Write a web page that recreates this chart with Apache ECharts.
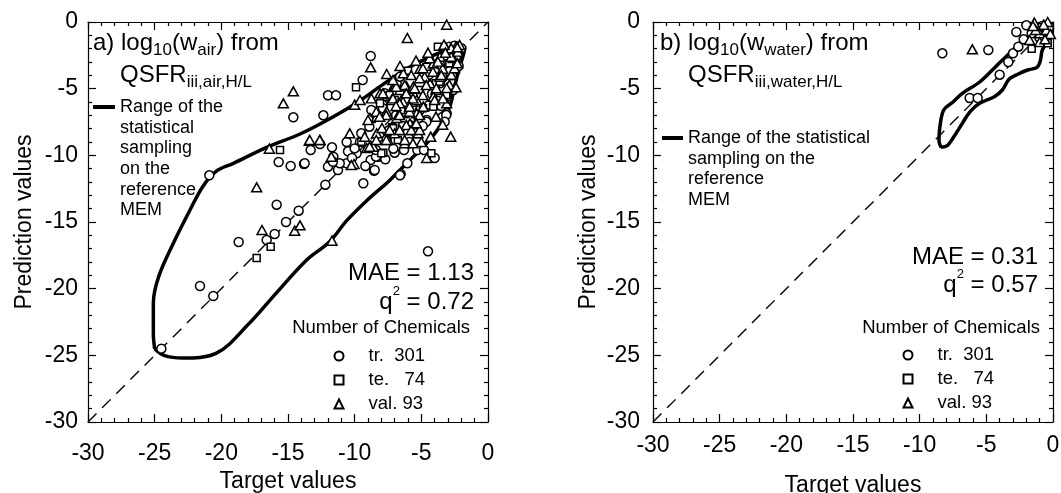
<!DOCTYPE html>
<html>
<head>
<meta charset="utf-8">
<title>QSFR predictions vs targets</title>
<script src="https://fastly.jsdelivr.net/npm/echarts@6/dist/echarts.min.js"></script>
</head>
<body style="margin:0;background:#fff">
<div id="main" style="width:1061px;height:493px;"></div>
<script type="text/javascript">
  // ---- panel a) log10(w_air) : [target, prediction]
  var airTrain = [[-20.9,-11.5],[-21.6,-19.8],[-20.6,-20.55],[-24.5,-24.5],[-18.7,-16.5],[-16.6,-16.35],[-16.0,-15.9],[-15.15,-15.0],[-14.2,-14.15],[-15.85,-13.7],
    [-15.7,-10.5],[-14.8,-10.8],[-13.8,-10.65],[-13.3,-9.6],[-14.6,-7.15],[-12.35,-7.0],[-12.0,-5.5],[-11.4,-5.5],[-9.4,-4.35],[-8.8,-2.55],
    [-12.2,-12.2],[-9.35,-12.1],[-8.55,-11.15],[-8.8,-10.35],[-8.2,-10.1],[-7.0,-9.8],[-6.55,-11.4],[-6.05,-10.6],[-4.5,-17.2],[-4.0,-10.2],
    [-4.6,-7.35],[-12.0,-10.85],[-11.6,-10.1],[-11.7,-9.4],[-11.25,-11.1],[-10.5,-9.7],[-10.6,-10.6],[-9.85,-9.85],[-9.6,-9.0],[-9.5,-8.35],
    [-8.9,-7.85],[-8.75,-6.6],[-10.6,-9.0],[-12.6,-9.15],[-13.75,-10.6],[-11.12,-10.6],[-11.63,-10.48],[-10.0,-9.48],[-8.4,-10.1],[-8.5,-11.1],
    [-7.1,-9.5],[-8.4,-9.6],[-8.1,-8.6],[-7.4,-8.1],[-7.9,-6.2],[-6.9,-7.0],[-6.1,-6.85],[-6.6,-11.5],[-3.4,-7.1],[-3.1,-6.85],
    [-2.9,-1.85],[-2.5,-1.78],[-2.0,-1.97],[-3.1,-2.85],[-6.85,-4.6],[-6.6,-4.1],[-3.13,-6.98],[-3.25,-7.48],[-4.63,-7.48],[-7.88,-6.47],
    [-7.75,-5.35],[-6.63,-6.47],[-5.1,-6.6],[-5.4,-8.35],[-4.9,-7.8],[-5.6,-6.0],[-4.2,-5.4],[-3.6,-3.2],[-2.4,-2.6],[-2.2,-3.3],
    [-5.9,-9.0],[-3.8,-5.9],[-2.7,-4.0],[-9.2,-10.8],[-10.2,-10.2],[-9.0,-9.2],[-7.6,-8.8],[-6.4,-7.8],[-5.2,-7.2],[-4.4,-6.2],
    [-3.6,-4.6],[-2.9,-3.7],[-6.3,-9.6],[-7.7,-10.3],[-5.3,-9.6],[-3.5,-6.3],[-2.6,-5.1],[-4.8,-9.6]];
  var airTest = [[-17.35,-17.7],[-16.3,-16.85],[-15.6,-9.6],[-9.9,-4.9],[-7.85,-9.8],[-4.25,-9.85],[-3.76,-1.85],[-7.6,-5.6],[-7.2,-7.9],[-9.5,-8.98],
    [-6.0,-3.65],[-3.9,-4.6],[-3.05,-5.6],[-5.1,-5.1],[-6.5,-6.6],[-3.4,-4.1],[-8.1,-6.1],[-4.6,-3.35],[-2.9,-3.1],[-2.75,-2.35],
    [-5.6,-5.6],[-7.0,-5.85],[-4.1,-6.35],[-4.88,-6.47],[-7.38,-5.48],[-7.13,-7.97],[-3.63,-4.48],[-3.13,-5.48],[-6.76,-8.85],[-5.88,-7.73],
    [-8.0,-9.85]];
  var airVal = [[-3.1,-0.2],[-6.05,-1.2],[-8.8,-3.4],[-14.6,-5.2],[-15.35,-6.1],[-17.35,-12.4],[-16.95,-15.6],[-14.5,-15.65],[-14.1,-15.25],[-16.4,-9.5],
    [-13.4,-8.9],[-12.6,-8.85],[-11.7,-16.4],[-10.05,-10.65],[-2.8,-8.6],[-3.4,-7.7],[-3.1,-6.1],[-4.6,-10.2],[-5.0,-9.0],[-5.25,-8.35],
    [-6.25,-9.1],[-10.0,-6.2],[-10.37,-8.35],[-9.6,-5.85],[-8.85,-7.2],[-8.35,-8.35],[-9.25,-8.6],[-8.1,-5.35],[-7.1,-4.85],[-6.35,-3.85],
    [-6.1,-4.85],[-5.1,-3.5],[-4.1,-3.1],[-3.6,-2.6],[-2.6,-2.7],[-2.9,-4.7],[-3.9,-5.1],[-4.85,-6.35],[-5.85,-7.6],[-6.85,-7.2],
    [-7.6,-6.7],[-6.5,-5.85],[-5.6,-4.85],[-4.35,-4.6],[-3.4,-3.5],[-3.05,-2.1],[-2.4,-1.85],[-7.5,-8.85],[-7.0,-8.35],[-6.1,-8.1],
    [-8.6,-9.35],[-5.35,-6.85],[-4.1,-5.6],[-7.25,-5.85],[-8.35,-7.1],[-4.75,-4.1],[-3.6,-4.1],[-7.95,-7.95],[-9.1,-9.45],[-6.6,-5.1],
    [-5.35,-5.85],[-3.1,-4.95],[-2.75,-3.95],[-2.76,-2.6],[-3.5,-3.98],[-4.13,-3.73],[-4.88,-3.47],[-5.13,-4.22],[-4.63,-4.73],[-3.88,-4.97],
    [-5.76,-3.98],[-6.25,-4.73],[-7.0,-4.85],[-7.13,-5.73],[-6.38,-5.98],[-5.63,-5.73],[-4.88,-5.48],[-4.0,-5.85],[-3.38,-5.73],[-5.88,-6.73],
    [-6.63,-6.98],[-7.63,-6.98],[-5.13,-6.98],[-6.13,-7.73],[-5.76,-8.1],[-5.13,-8.1],[-6.63,-8.1],[-7.38,-8.1],[-5.5,-4.97],[-4.38,-2.72],
    [-3.76,-2.97],[-2.51,-3.47],[-2.76,-1.97],[-2.26,-2.22],[-2.13,-1.72],[-13.37,-8.85],[-12.62,-8.85],[-11.75,-10.1],[-10.25,-10.73],[-9.0,-7.35],
    [-8.38,-6.73],[-8.75,-5.73],[-7.88,-5.35],[-6.88,-4.85],[-6.13,-5.35],[-6.63,-6.1],[-5.88,-6.35],[-7.63,-8.85],[-6.25,-8.85],[-5.63,-9.1],
    [-8.13,-7.1],[-7.13,-4.35],[-8.38,-8.85],[-8.88,-9.35],[-5.38,-7.6],[-4.5,-2.3],[-5.4,-2.9],[-6.6,-3.3],[-7.6,-3.9],[-3.3,-1.7],
    [-2.3,-1.9],[-6.9,-6.3],[-4.3,-8.6],[-3.9,-7.1],[-2.4,-4.9],[-2.3,-3.1],[-3.2,-2.3]];
  // range of the statistical sampling on the reference MEM (closed outline)
  var airRange = [[-25.0,-24.5],[-25.1,-23.4],[-25.1,-21.1],[-24.7,-19.1],[-23.6,-16.6],[-22.35,-14.1],[-21.4,-12.35],[-20.4,-11.2],[-19.1,-10.6],
    [-16.6,-9.4],[-14.1,-8.4],[-11.6,-7.1],[-9.6,-5.9],[-7.9,-4.7],[-5.9,-3.4],[-4.1,-2.5],[-2.9,-2.1],[-1.75,-1.85],[-1.8,-2.3],[-2.1,-3.3],
    [-2.5,-4.8],[-2.85,-6.3],[-3.6,-7.8],[-4.6,-9.1],[-5.9,-10.4],[-7.4,-11.9],[-9.1,-13.4],[-10.6,-14.9],[-11.9,-16.5],[-13.6,-17.85],
    [-15.9,-20.35],[-17.9,-22.6],[-20.4,-24.85],[-22.9,-25.2],[-24.3,-25.0],[-25.0,-24.5]];

  // ---- panel b) log10(w_water)
  var waterTrain = [[-8.3,-2.35],[-4.85,-2.1],[-6.25,-5.7],[-5.65,-5.7],[-4.0,-3.95],[-3.35,-3.0],[-3.0,-2.35],[-2.6,-1.85],[-2.0,-0.25],[-2.75,-0.75],
    [-1.6,-0.85],[-1.2,-0.5],[-0.8,-0.3],[-0.5,-0.8],[-1.0,-1.2],[-0.3,-0.5],[-2.2,-1.3]];
  var waterTest = [[-1.6,-2.0],[-0.75,-1.1],[-0.25,-0.35],[-1.1,-0.4],[-0.4,-1.6]];
  var waterVal = [[-6.05,-2.05],[-1.4,-0.05],[-0.4,0.0],[-1.0,-0.85],[-1.75,-1.35],[-1.0,-1.5],[-0.5,-0.6],[-0.7,-0.2],[-1.3,-0.6],[-0.2,-0.9],
    [-0.6,-1.3],[-1.5,-0.3]];
  var waterRange = [[-8.4,-9.4],[-8.55,-8.9],[-8.5,-8.0],[-8.2,-6.6],[-7.5,-6.0],[-6.8,-5.35],[-5.5,-4.5],[-4.3,-3.35],[-3.0,-2.1],[-1.8,-1.0],
    [-0.9,-0.3],[-0.3,-0.1],[-0.1,-0.4],[-0.15,-1.0],[-0.35,-1.4],[-0.8,-2.1],[-0.95,-2.9],[-1.2,-3.4],[-1.9,-3.6],[-2.6,-3.9],
    [-3.3,-4.3],[-3.8,-5.1],[-4.4,-5.6],[-5.5,-6.1],[-6.2,-6.7],[-6.8,-7.6],[-7.5,-8.7],[-7.9,-9.25],[-8.4,-9.4]];

  var identity = [[-30,-30],[0,0]];
  var legendNames = ['tr.  301', 'te.   74', 'val. 93'];
  var axisMin = -30, axisMax = 0, axisStep = 5;

  var FONT = '"Liberation Sans", Arial, sans-serif';
  var myChart = echarts.init(document.getElementById('main'));

  function xAx(gi, bottom, margin, gap) {
    return {
      type: 'value', gridIndex: gi, position: bottom ? 'bottom' : 'top',
      min: axisMin, max: axisMax, interval: axisStep,
      name: bottom ? 'Target values' : '', nameLocation: 'middle', nameGap: gap,
      nameTextStyle: {fontFamily: FONT, fontSize: 23, color: '#000'},
      axisLine: {show: true, onZero: false, lineStyle: {color: '#000', width: 1.2}},
      axisTick: {show: true, inside: true, length: 8, lineStyle: {color: '#000', width: 1.2}},
      minorTick: {show: true, splitNumber: 5, length: 4, lineStyle: {color: '#000', width: 1.2}},
      axisLabel: {show: bottom, margin: margin, fontFamily: FONT, fontSize: 23, color: '#000'},
      splitLine: {show: false}
    };
  }
  function yAx(gi, left, margin, gap) {
    return {
      type: 'value', gridIndex: gi, position: left ? 'left' : 'right',
      min: axisMin, max: axisMax, interval: axisStep,
      name: left ? 'Prediction values' : '', nameLocation: 'middle', nameGap: gap, nameRotate: 90,
      nameTextStyle: {fontFamily: FONT, fontSize: 23, color: '#000'},
      axisLine: {show: true, onZero: false, lineStyle: {color: '#000', width: 1.2}},
      axisTick: {show: true, inside: true, length: 8, lineStyle: {color: '#000', width: 1.2}},
      minorTick: {show: true, splitNumber: 5, length: 4, lineStyle: {color: '#000', width: 1.2}},
      axisLabel: {show: left, margin: margin, fontFamily: FONT, fontSize: 23, color: '#000'},
      splitLine: {show: false}
    };
  }

  var marker = {color: '#fff', borderColor: '#000', borderWidth: 1.5, opacity: 1};
  function scatter(name, gi, sym, size, data) {
    return {name: name, type: 'scatter', xAxisIndex: gi * 2, yAxisIndex: gi * 2,
      symbol: sym, symbolSize: size, itemStyle: marker, data: data, z: 5, animation: false};
  }
  function line(gi, data, width, dash, smooth) {
    return {type: 'line', xAxisIndex: gi * 2, yAxisIndex: gi * 2, data: data, symbol: 'none',
      smooth: smooth, lineStyle: {color: '#000', width: width, type: dash}, z: 2, animation: false, silent: true};
  }

  var rich = {
    n: {fontFamily: FONT, fontSize: 24, color: '#000'},
    s: {fontFamily: FONT, fontSize: 17, color: '#000', padding: [14, 0, 0, 0]},
    p: {fontFamily: FONT, fontSize: 13, color: '#000', padding: [0, 0, 22, 0]}
  };
  function txt(x, y, text, align, size, lh) {
    return {type: 'text', x: x, y: y, silent: true, z: 10,
      style: {text: text, rich: rich, align: align || 'left', verticalAlign: lh ? 'top' : 'middle',
        fontFamily: FONT, fontSize: size || 24, lineHeight: lh, fill: '#000'}};
  }
  function legendFor(left, top) {
    return {
      left: left, top: top, orient: 'vertical', itemWidth: 9, itemHeight: 9, itemGap: 4,
      selectedMode: false, data: legendNames.slice(),
      textStyle: {fontFamily: FONT, fontSize: 18.5, lineHeight: 20, color: '#000', padding: [0, 0, 0, 20]}
    };
  }

  var option = {
    animation: false,
    grid: [
      {left: 88, top: 22, width: 400, height: 400, outerBoundsMode: 'none'},
      {left: 653, top: 22, width: 400, height: 400, outerBoundsMode: 'none'}
    ],
    xAxis: [xAx(0, true, 20, 47), xAx(0, false), xAx(1, true, 12, 52), xAx(1, false)],
    yAxis: [yAx(0, true, 10, 52), yAx(0, false), yAx(1, true, 13, 53), yAx(1, false)],
    legend: [legendFor(328.5, 341), legendFor(897.5, 340)],
    series: [
      line(0, identity, 1.4, [12, 8], false),
      line(0, airRange, 3.5, 'solid', 0.35),
      scatter(legendNames[0], 0, 'circle', 9, airTrain),
      scatter(legendNames[1], 0, 'rect', 7, airTest),
      scatter(legendNames[2], 0, 'triangle', [10, 9], airVal),
      line(1, identity, 1.4, [12, 8], false),
      line(1, waterRange, 3.5, 'solid', 0.35),
      scatter(legendNames[0], 1, 'circle', 9, waterTrain),
      scatter(legendNames[1], 1, 'rect', 7, waterTest),
      scatter(legendNames[2], 1, 'triangle', [10, 9], waterVal)
    ],
    graphic: [
      // panel a
      txt(93, 43, '{n|a) log}{s|10}{n|(w}{s|air}{n|) from}'),
      txt(120, 75, '{n|QSFR}{s|iii,air,H/L}'),
      {type: 'rect', shape: {x: 93, y: 105, width: 22, height: 4}, style: {fill: '#000'}, silent: true},
      txt(120, 96.5, 'Range of the\nstatistical\nsampling\non the\nreference\nMEM', 'left', 18, 20.7),
      txt(474, 273, '{n|MAE = 1.13}', 'right'),
      txt(474, 302, '{n|q}{p|2}{n| = 0.72}', 'right'),
      txt(470, 328, 'Number of Chemicals', 'right', 18.5),
      // panel b
      txt(660, 43, '{n|b) log}{s|10}{n|(w}{s|water}{n|) from}'),
      txt(688, 75, '{n|QSFR}{s|iii,water,H/L}'),
      {type: 'rect', shape: {x: 662, y: 136, width: 21, height: 4}, style: {fill: '#000'}, silent: true},
      txt(688, 127.5, 'Range of the statistical\nsampling on the\nreference\nMEM', 'left', 18, 20.7),
      txt(1038, 257, '{n|MAE = 0.31}', 'right'),
      txt(1038, 285, '{n|q}{p|2}{n| = 0.57}', 'right'),
      txt(1040, 328, 'Number of Chemicals', 'right', 18.5)
    ]
  };

  myChart.setOption(option);
  window.addEventListener('resize', myChart.resize);
</script>
</body>
</html>
